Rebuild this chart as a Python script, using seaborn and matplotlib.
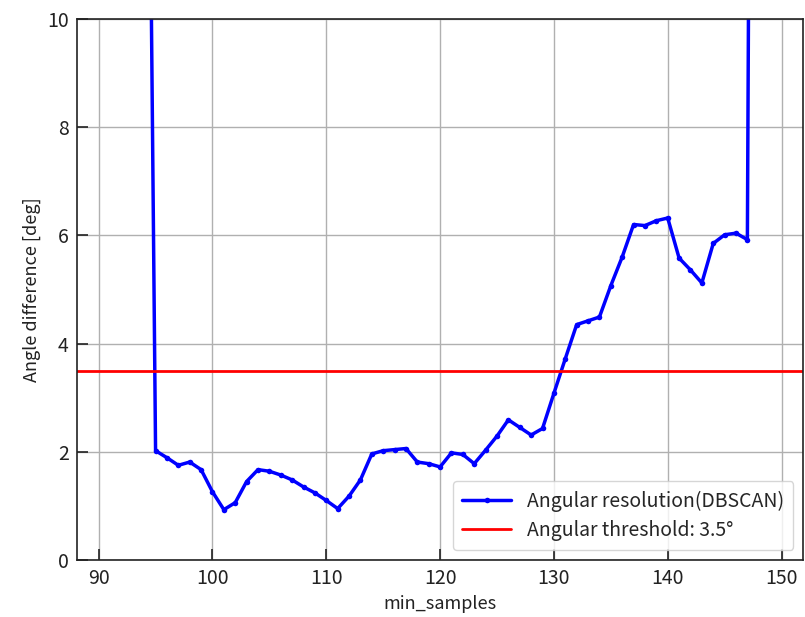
import matplotlib
matplotlib.use("Agg")
import matplotlib.pyplot as plt
import seaborn as sns
import pandas as pd

# min_samples sweep and the resulting DBSCAN angular resolution [deg]
min_samples = list(range(91, 150))
angle_diff = [
    40.0, 35.0, 30.0, 24.0,                                  # 91-94
    2.02, 1.89, 1.75, 1.81, 1.67, 1.26, 0.93, 1.06, 1.45, 1.67,  # 95-104
    1.64, 1.57, 1.48, 1.35, 1.24, 1.10, 0.95, 1.18, 1.48, 1.96,  # 105-114
    2.02, 2.04, 2.06, 1.81, 1.78, 1.72, 1.98, 1.95, 1.78, 2.03,  # 115-124
    2.29, 2.59, 2.45, 2.31, 2.43, 3.08, 3.72, 4.35, 4.42, 4.49,  # 125-134
    5.07, 5.60, 6.20, 6.18, 6.27, 6.32, 5.58, 5.36, 5.12, 5.85,  # 135-144
    6.01, 6.04, 5.92,                                        # 145-147
    50.0, 45.0,                                              # 148-149
]
threshold = 3.5

series_label = "Angular resolution(DBSCAN)"
threshold_label = f"Angular threshold: {threshold}°"
x_label = "min_samples"
y_label = "Angle difference [deg]"

df = pd.DataFrame({"min_samples": min_samples, "angle": angle_diff})

sns.set_style("ticks")
plt.rcParams["font.family"] = ["Noto Sans CJK JP", "DejaVu Sans"]

fig = plt.figure(figsize=(8.05, 6.17), dpi=100)
ax = fig.add_axes([0.0957, 0.0924, 0.902, 0.877])

sns.lineplot(data=df, x="min_samples", y="angle", ax=ax, color="blue",
             linewidth=2.5, marker=".", markersize=8, markeredgewidth=0,
             label=series_label)
ax.axhline(threshold, color="red", linewidth=2.0, label=threshold_label)

ax.set_ylim(0, 10)
ax.set_yticks([0, 2, 4, 6, 8, 10])
ax.set_xticks([90, 100, 110, 120, 130, 140, 150])
ax.grid(True, color="#b0b0b0", linewidth=1.0)
ax.set_axisbelow(True)
ax.tick_params(direction="in", length=8, width=1.2, labelsize=14,
               colors="#222222", pad=6)
for s in ax.spines.values():
    s.set_color("#222222")
    s.set_linewidth(1.2)

ax.set_xlabel(x_label, fontsize=13, color="#222222")
ax.set_ylabel(y_label, fontsize=13, color="#222222")

ax.legend(loc="lower right", fontsize=14, frameon=True, fancybox=True,
          framealpha=0.8, edgecolor="#cccccc", handlelength=2.5,
          borderpad=0.5, labelspacing=0.4)

fig.savefig("out.png", dpi=100)
